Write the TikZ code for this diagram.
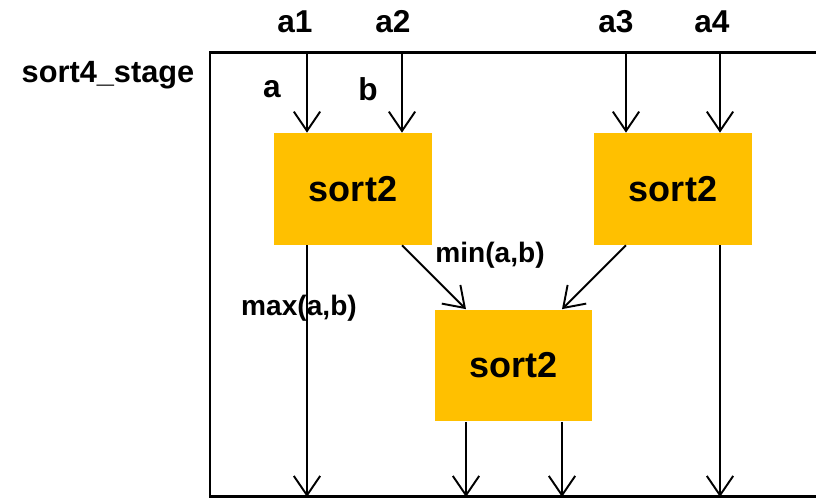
\documentclass[tikz,border=0pt]{standalone}
\usepackage{fontspec}
\setmainfont{Liberation Sans}
\usepackage{xcolor}
\definecolor{sortgold}{RGB}{255,192,0}
\usepackage{tikz}
\usetikzlibrary{arrows.meta}
\usetikzlibrary{positioning}

\begin{document}
\begin{tikzpicture}[x=0.02cm,y=-0.02cm,
    sortbox/.style={fill=sortgold,minimum width=3.16cm,minimum height=2.24cm,
        inner sep=0pt,font=\fontsize{20.5}{24}\selectfont\bfseries},
    lbl/.style={inner sep=0pt,font=\fontsize{18}{21}\selectfont\bfseries},
    small/.style={inner sep=0pt,font=\fontsize{16}{19}\selectfont\bfseries},
    wire/.style={line width=1.1pt,
        -{Straight Barb[length=11pt,width=15pt,line width=1.1pt]}}]
    \useasboundingbox (0,0) rectangle (816,502);
    \clip (0,0) rectangle (816,502);

    % stage frame
    \draw[line width=1.7pt] (840,53) -| (210,497) -- (840,497);
    \node[small,font=\fontsize{17.5}{20}\selectfont\bfseries] (stage) at (108,75) {sort4\_stage};

    % the three comparators
    \node[sortbox] (s0) at (353,189) {sort2};
    \node[sortbox] (s1) at (673,189) {sort2};
    \node[sortbox] (s2) at (513.5,365.5) {sort2};

    % inputs
    \node[lbl] (a1) at (295,22) {a1};
    \node[lbl] (a2) at (393,22) {a2};
    \node[lbl] (a3) at (616,22) {a3};
    \node[lbl] (a4) at (712,22) {a4};
    \coordinate (i1) at (307,53);
    \coordinate (i2) at (402,53);
    \coordinate (i3) at (626,53);
    \coordinate (i4) at (720,53);
    \node[lbl] (pa) at (272,89) {a};
    \node[lbl] (pb) at (368,89) {b};

    % outputs on the frame bottom
    \coordinate (o1) at (307,497);
    \coordinate (o2) at (466,497);
    \coordinate (o3) at (562,497);
    \coordinate (o4) at (720,497);

    \draw[wire] (i1) -- (i1 |- s0.north);
    \draw[wire] (i2) -- (i2 |- s0.north);
    \draw[wire] (i3) -- (i3 |- s1.north);
    \draw[wire] (i4) -- (i4 |- s1.north);

    \draw[wire] (s0.south -| o1) -- (o1);
    \draw[wire] (s0.south -| i2) -- (s2.north -| o2);
    \draw[wire] (s1.south -| i3) -- (s2.north -| o3);
    \draw[wire] (s1.south -| o4) -- (o4);
    \draw[wire] (s2.south -| o2) -- (o2);
    \draw[wire] (s2.south -| o3) -- (o3);

    \node[small] (mn) at (490,255) {min(a,b)};
    \node[small] (mx) at (299,308) {max(a,b)};
\end{tikzpicture}
\end{document}
